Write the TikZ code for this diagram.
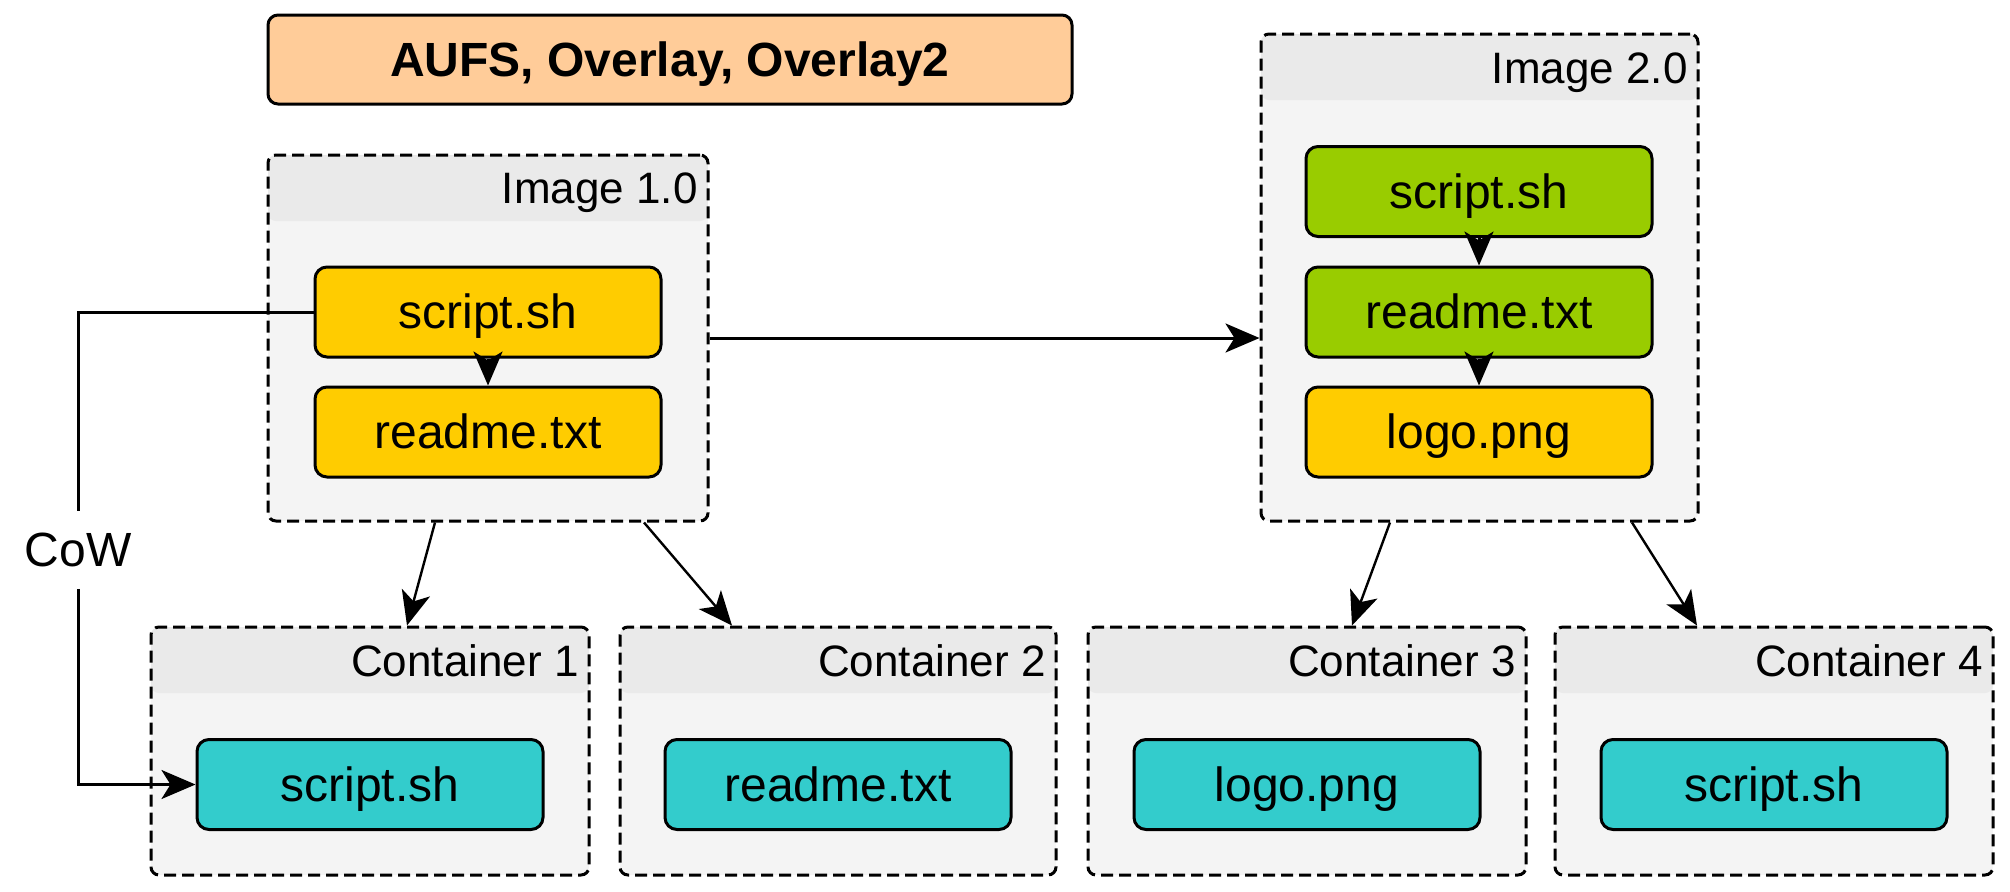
\documentclass[tikz,border=0pt]{standalone}
\usepackage{fontspec}
\setmainfont{Liberation Sans}
\usetikzlibrary{arrows.meta}
\definecolor{titlefill}{RGB}{255,204,153}
\definecolor{oldfile}{RGB}{255,204,0}
\definecolor{newfile}{RGB}{153,204,0}
\definecolor{ctrfile}{RGB}{51,204,204}
\definecolor{panelbg}{RGB}{244,244,244}
\definecolor{panelhead}{RGB}{234,234,234}

\begin{document}
\begin{tikzpicture}[x=0.5pt,y=0.5pt,yscale=-1,
    panel/.style={draw, line width=1.5pt, dash pattern=on 6pt off 3pt, rounded corners=4pt, fill=panelbg, inner sep=0pt,
        path picture={\fill[panelhead] (path picture bounding box.north west) rectangle ([yshift=-33pt]path picture bounding box.north east);}},
    filebox/.style={draw, line width=1.5pt, rounded corners=6pt, minimum width=173pt, minimum height=45pt, inner sep=0pt,
        text height=18pt, text depth=1.4pt, font=\fontsize{24}{28}\selectfont},
    titlebox/.style={draw, line width=1.5pt, rounded corners=5pt, fill=titlefill, minimum width=402pt, minimum height=44.5pt,
        inner sep=0pt, text height=18pt, text depth=1.4pt, font=\bfseries\fontsize{24}{28}\selectfont},
    hdr/.style={anchor=base east, inner sep=0pt, font=\fontsize{22}{26}\selectfont},
    flow/.style={line width=1.5pt, -{Stealth[length=17pt,width=14.5pt,inset=4.5pt]}},
    feed/.style={flow, line width=1.2pt},
    ]
    \useasboundingbox (0,0) rectangle (2010,891);

    % Title
    \node[titlebox] (title) at (670,59.5) {AUFS, Overlay, Overlay2};

    %Shape: image panels
    \node[panel, minimum width=220pt, minimum height=183pt] (img1) at (488,338) {};
    \node[panel, minimum width=218.5pt, minimum height=243.5pt] (img2) at (1479.5,277.5) {};
    % Text Node
    \node[hdr] (img1-lbl) at (698,203.8) {Image 1.0};
    % Text Node
    \node[hdr] (img2-lbl) at (1688,83.3) {Image 2.0};

    %Shape: container panels
    \node[panel, minimum width=219pt, minimum height=124pt] (c1) at (370,751) {};
    \node[panel, minimum width=218pt, minimum height=124pt] (c2) at (838,751) {};
    \node[panel, minimum width=219pt, minimum height=124pt] (c3) at (1307,751) {};
    \node[panel, minimum width=219pt, minimum height=124pt] (c4) at (1774,751) {};
    % Text Node
    \node[hdr] (c1-lbl) at (579,676) {Container 1};
    \node[hdr] (c2-lbl) at (1046,676) {Container 2};
    \node[hdr] (c3-lbl) at (1516,676) {Container 3};
    \node[hdr] (c4-lbl) at (1983,676) {Container 4};

    %Shape: files of image 1.0
    \node[filebox, fill=oldfile] (s1) at (488,312) {script.sh};
    \node[filebox, fill=oldfile] (r1) at (488,432) {readme.txt};
    %Shape: files of image 2.0
    \node[filebox, fill=newfile] (s2) at (1479,191.5) {script.sh};
    \node[filebox, fill=newfile] (r2) at (1479,312) {readme.txt};
    \node[filebox, fill=oldfile] (l2) at (1479,432) {logo.png};
    %Shape: files of the containers
    \node[filebox, fill=ctrfile] (cs1) at (370,784.5) {script.sh};
    \node[filebox, fill=ctrfile] (cr2) at (838,784.5) {readme.txt};
    \node[filebox, fill=ctrfile] (cl3) at (1307,784.5) {logo.png};
    \node[filebox, fill=ctrfile] (cs4) at (1774,784.5) {script.sh};

    %Straight Lines
    \draw[flow] (s1.south) -- (r1.north);
    \draw[flow] (s2.south) -- (r2.north);
    \draw[flow] (r2.south) -- (l2.north);
    \draw[flow] (img1.east) -- (img1.east -| img2.west);
    \draw[feed] ([xshift=-26.5pt]img1.south) -- ([xshift=18.5pt]c1.north);
    \draw[feed] ([xshift=78pt]img1.south) -- ([xshift=-53pt]c2.north);
    \draw[feed] ([xshift=-44.75pt]img2.south) -- ([xshift=22.5pt]c3.north);
    \draw[feed] ([xshift=76.25pt]img2.south) -- ([xshift=-38.5pt]c4.north);

    % CoW link
    \node[fill=white, inner sep=0pt, minimum height=38.5pt, font=\fontsize{24}{28}\selectfont] (cow) at (78,550) {CoW};
    \draw[line width=1.5pt] (s1.west) -| (cow.north);
    \draw[flow] (cow.south) |- (cs1.west);
\end{tikzpicture}
\end{document}
